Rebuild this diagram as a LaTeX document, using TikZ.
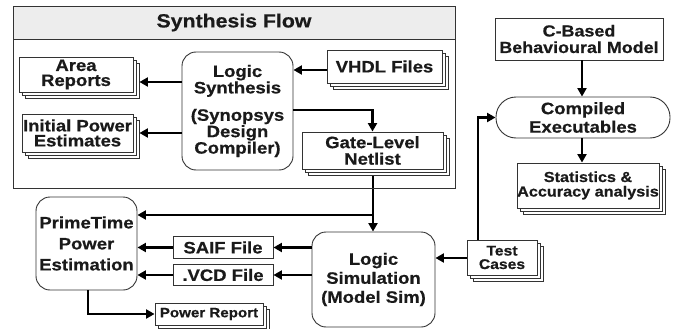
\documentclass[tikz,border=0pt]{standalone}
\usepackage{fontspec}
\setmainfont{Liberation Sans}[FakeStretch=1.12,BoldFeatures={FakeBold=0.6}]
\usetikzlibrary{shadows,arrows.meta,backgrounds,calc}
\definecolor{ink}{HTML}{1A1A1A}
\definecolor{edge}{HTML}{333333}
\definecolor{band}{HTML}{EDEDED}
\tikzset{
  box/.style={draw=edge,line width=0.9pt,fill=white,align=center,inner sep=0pt,
    text=ink,font=\bfseries\fontsize{16.5}{15}\selectfont},
  stack/.style={box,double copy shadow={shadow xshift=3pt,shadow yshift=-3pt,draw=edge,fill=white,line width=0.9pt}},
  proc/.style={box,rounded corners=14pt},
  arr/.style={line width=2.5pt,draw=black,-{Triangle[length=8.5pt,width=9pt]}},
  wire/.style={line width=2.5pt,draw=black},
}
\begin{document}
\begin{tikzpicture}[x=1pt,y=-1pt]
\useasboundingbox (0,0) rectangle (688,329);

% synthesis flow container
\node[draw=edge,line width=0.9pt,minimum width=442pt,minimum height=182pt,inner sep=0pt] (flow) at (234,97) {};
\node[draw=edge,line width=0.9pt,fill=band,minimum width=442pt,minimum height=33pt,inner sep=0pt,
  text=ink,font=\bfseries\fontsize{19}{20}\selectfont] (hdr) at (234,22.5) {Synthesis Flow};

% synthesis stage
\node[stack,minimum width=114pt,minimum height=35pt] (area) at (76,74.5) {Area\\Reports};
\node[stack,minimum width=111pt,minimum height=38pt] (ipow) at (77.5,133) {Initial Power\\Estimates};
\node[proc,minimum width=111pt,minimum height=118pt] (synth) at (237.5,111)
  {Logic\\Synthesis\\[11pt](Synopsys\\Design\\Compiler)};
\node[stack,minimum width=115pt,minimum height=33pt] (vhdl) at (384.5,66.5) {VHDL Files};
\node[stack,minimum width=141pt,minimum height=37pt,font=\bfseries\fontsize{16.5}{16.5}\selectfont] (gate) at (372.5,150.5) {Gate-Level\\Netlist};

% simulation and power estimation
\node[proc,minimum width=101pt,minimum height=93pt,font=\bfseries\fontsize{16.5}{21}\selectfont] (pt) at (86.5,243.5) {PrimeTime\\Power\\Estimation};
\node[box,minimum width=100pt,minimum height=21.5pt] (saif) at (223,247.5) {SAIF File};
\node[box,minimum width=100pt,minimum height=21.5pt] (vcd) at (223,275) {.VCD File};
\node[proc,minimum width=123pt,minimum height=95pt,font=\bfseries\fontsize{16.5}{19}\selectfont] (lsim) at (373.5,279.5) {Logic\\Simulation\\(Model Sim)};
\node[stack,minimum width=108pt,minimum height=22pt,font=\bfseries\fontsize{13.5}{14}\selectfont] (prep) at (209,314) {Power Report};

% behavioural model branch
\node[box,minimum width=168pt,minimum height=42pt,font=\bfseries\fontsize{16}{16.5}\selectfont] (cbm) at (579,39) {C-Based\\Behavioural Model};
\node[box,rounded corners=20pt,minimum width=174pt,minimum height=41pt,font=\bfseries\fontsize{16.5}{18.5}\selectfont] (comp) at (583,117.5) {Compiled\\Executables};
\node[stack,minimum width=142pt,minimum height=45pt,font=\bfseries\fontsize{14.5}{14.5}\selectfont] (stats) at (588,185.5) {Statistics \&\\Accuracy analysis};
\node[stack,minimum width=70pt,minimum height=35pt,font=\bfseries\fontsize{14}{13.5}\selectfont] (test) at (502,257.5) {Test\\Cases};

\begin{scope}[on background layer]
  \coordinate (br) at (373,215);
  \draw[wire] (gate.center -| br) -- (br);
  \draw[arr] (br) -- (lsim.north -| br);
  \draw[arr] (br) -- (pt.east |- br);
  \draw[arr] (test.center -| 478,0) |- (comp.west);
\end{scope}

\draw[arr] (synth.west |- 0,82) -- ($(area.east |- 0,82)+(6,0)$);
\draw[arr] (synth.west |- 0,133) -- ($(ipow.east |- 0,133)+(6,0)$);
\draw[arr] (vhdl.west |- 0,70) -- (synth.east |- 0,70);
\draw[arr] (synth.east |- 0,110) -| (gate.north);
\draw[arr] (lsim.west |- saif) -- (saif.east);
\draw[arr] (saif.west) -- (pt.east |- saif);
\draw[arr] (lsim.west |- vcd) -- (vcd.east);
\draw[arr] (vcd.west) -- (pt.east |- vcd);
\draw[arr] (pt.south -| 88,0) |- (prep.west);
\draw[arr] (cbm.south -| 582,0) -- (comp.north -| 582,0);
\draw[arr] (comp.south -| 582,0) -- (stats.north -| 582,0);
\draw[arr] (test.west |- 0,258) -- (lsim.east |- 0,258);
\end{tikzpicture}
\end{document}
